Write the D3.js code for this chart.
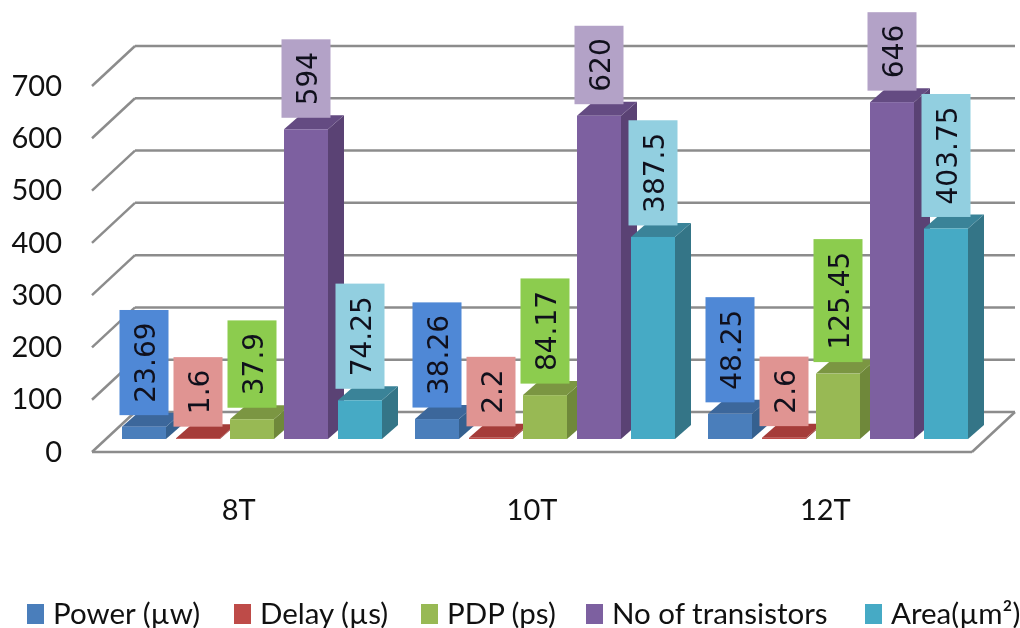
<!DOCTYPE html>
<html lang="en">
  <head>
    <meta charset="UTF-8" />
    <script src="https://d3js.org/d3.v7.min.js"></script>
    <style>
      html, body { margin: 0; padding: 0; background: #fff; }
      svg { display: block; filter: blur(0.5px); }
      .wall { stroke: #8c8c8c; stroke-width: 2.5; fill: none; }
      .tick text, .cat { font-family: Lato, sans-serif; font-size: 29px; fill: #111; }
      .val { font-family: "DejaVu Sans", sans-serif; font-size: 28px; fill: #10101c; }
      .leg { font-family: Lato, sans-serif; font-size: 29.5px; fill: #111; }
    </style>
  </head>
  <body>
    <svg id="chart" width="1020" height="628"></svg>
    <script>
      // values
      const categories = ["8T", "10T", "12T"];
      const seriesNames = ["Power (µw)", "Delay (µs)", "PDP (ps)", "No of transistors", "Area(µm²)"];
      const power = [23.69, 38.26, 48.25];
      const delay = [1.6, 2.2, 2.6];
      const pdp = [37.9, 84.17, 125.45];
      const transistors = [594, 620, 646];
      const area = [74.25, 387.5, 403.75];
      const yTicks = [0, 100, 200, 300, 400, 500, 600, 700];

      const seriesValues = [power, delay, pdp, transistors, area];

      // front, top, side, label box
      const seriesColors = [
        ["#4a7ebb", "#3c679b", "#35608f", "#4f88d6"],
        ["#be4b48", "#a53c39", "#93332f", "#e09492"],
        ["#98b954", "#7b9642", "#6f883a", "#8ccc4e"],
        ["#7d60a0", "#644b82", "#5a4274", "#b3a2c7"],
        ["#46aac5", "#3a8398", "#347587", "#92cfe0"]
      ];

      const svg = d3.select("#chart");

      // 3d look: the wall sits back from the floor's front edge by this much
      const wallDx = 43, wallDy = -40;
      const depthDx = 16, depthDy = -14;

      const y = d3.scaleLinear().domain([0, 700]).range([452, 86]);
      const yBar = d3.scaleLinear().domain([0, 700]).range([439, 74]); // bars stand a bit behind the front edge
      const xFloor = d3.scaleBand().domain(categories).range([92, 972]);
      const x0 = d3.scaleBand().domain(categories).range([122, 1001]);
      const x1 = d3.scaleBand()
        .domain(d3.range(seriesNames.length))
        .range([0, 260])
        .paddingInner(10 / 54);

      // gridlines on back wall + side wall
      yTicks.forEach(function (t) {
        svg.append("line").attr("class", "wall")
          .attr("x1", 92).attr("y1", y(t))
          .attr("x2", 92 + wallDx).attr("y2", y(t) + wallDy);
        svg.append("line").attr("class", "wall")
          .attr("x1", 92 + wallDx).attr("y1", y(t) + wallDy)
          .attr("x2", 972 + wallDx).attr("y2", y(t) + wallDy);
      });
      // floor
      svg.append("line").attr("class", "wall")
        .attr("x1", 92).attr("y1", y(0)).attr("x2", 972).attr("y2", y(0));
      svg.append("line").attr("class", "wall")
        .attr("x1", 972).attr("y1", y(0))
        .attr("x2", 972 + wallDx).attr("y2", y(0) + wallDy);

      const axis = d3.axisLeft(y).tickValues(yTicks).tickSize(0).tickPadding(30);
      svg.append("g").attr("transform", "translate(92,0)").call(axis)
        .call(function (g) { g.select(".domain").remove(); });

      svg.selectAll(".cat").data(categories).join("text")
        .attr("class", "cat")
        .attr("x", function (d) { return xFloor(d) + xFloor.bandwidth() / 2; })
        .attr("y", 520)
        .attr("text-anchor", "middle")
        .text(function (d) { return d; });

      // flatten for drawing
      const marks = [];
      categories.forEach(function (c, ci) {
        seriesValues.forEach(function (vals, si) {
          marks.push({ cat: c, s: si, v: vals[ci] });
        });
      });

      const bars = svg.append("g").selectAll("g").data(marks).join("g");
      function bx(d) { return x0(d.cat) + x1(d.s); }
      function bTop(d) { return yBar(d.v); }
      const base = yBar(0);
      const w = x1.bandwidth();

      bars.append("path") // side
        .attr("fill", function (d) { return seriesColors[d.s][2]; })
        .attr("d", function (d) {
          const r = bx(d) + w;
          return d3.line()([[r, bTop(d)], [r + depthDx, bTop(d) + depthDy],
            [r + depthDx, base + depthDy], [r, base]]);
        });
      bars.append("path") // top
        .attr("fill", function (d) { return seriesColors[d.s][1]; })
        .attr("d", function (d) {
          const l = bx(d);
          return d3.line()([[l, bTop(d)], [l + depthDx, bTop(d) + depthDy],
            [l + w + depthDx, bTop(d) + depthDy], [l + w, bTop(d)]]);
        });
      bars.append("rect") // front
        .attr("fill", function (d) { return seriesColors[d.s][0]; })
        .attr("x", bx)
        .attr("y", bTop)
        .attr("width", w)
        .attr("height", function (d) { return base - bTop(d); });

      // value labels, rotated inside a coloured box just above the bar
      const labels = svg.append("g").selectAll("g").data(marks).join("g")
        .attr("transform", function (d) {
          return "translate(" + (bx(d) + w / 2) + "," + (bTop(d) - 11.5) + ")";
        });
      const boxRect = labels.append("rect")
        .attr("fill", function (d) { return seriesColors[d.s][3]; });
      const valText = labels.append("text")
        .attr("class", "val")
        .attr("text-anchor", "middle")
        .text(function (d) { return d.v; });
      valText.each(function (d) { d.len = this.getComputedTextLength() + 25; });
      boxRect
        .attr("x", -24.5).attr("width", 49)
        .attr("y", function (d) { return -d.len; })
        .attr("height", function (d) { return d.len; });
      valText.attr("transform", function (d) {
        return "translate(10.5," + (-d.len / 2) + ") rotate(-90)";
      });

      // legend
      const legendX = [27, 234, 421, 586, 865];
      const legend = svg.append("g").selectAll("g").data(seriesNames).join("g")
        .attr("transform", function (d, i) { return "translate(" + legendX[i] + ",604)"; });
      legend.append("rect")
        .attr("width", 17).attr("height", 20)
        .attr("fill", function (d, i) { return seriesColors[i][0]; });
      legend.append("text")
        .attr("class", "leg")
        .attr("x", 26).attr("y", 19.5)
        .text(function (d) { return d; });
    </script>
  </body>
</html>
